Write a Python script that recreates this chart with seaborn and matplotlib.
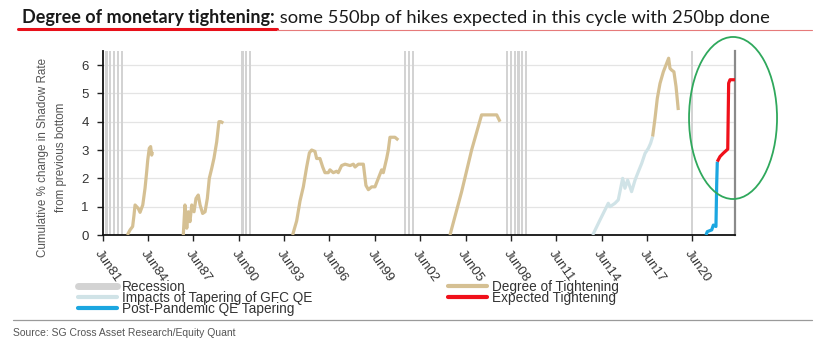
import numpy as np
import pandas as pd
import matplotlib
matplotlib.use("Agg")
import matplotlib.pyplot as plt
import seaborn as sns
from matplotlib.lines import Line2D
from matplotlib.patches import Ellipse

# ---------------- data ----------------
recession_quarters = ["1981Q3", "1981Q4", "1982Q1", "1982Q2", "1982Q3",
                      "1990Q3", "1990Q4", "1991Q1",
                      "2001Q2", "2001Q3", "2001Q4",
                      "2008Q1", "2008Q2", "2008Q3", "2008Q4", "2009Q1", "2009Q2",
                      "2020Q2"]

# Degree of Tightening cycles (decimal year, cumulative % change)
cyc1_x = [1983.13, 1983.31, 1983.48, 1983.57, 1983.64, 1983.85, 1983.97, 1984.15,
          1984.30, 1984.41, 1984.48, 1984.58, 1984.67, 1984.74, 1984.78]
cyc1_y = [0.0, 0.18, 0.30, 0.70, 1.06, 0.94, 0.80, 1.06, 1.65, 2.24, 2.65, 3.06,
          3.12, 2.82, 2.94]

cyc2_x = [1986.83, 1986.94, 1987.06, 1987.16, 1987.27, 1987.39, 1987.54, 1987.67,
          1987.82, 1987.94, 1988.11, 1988.27, 1988.42, 1988.55, 1988.71, 1988.86,
          1989.04, 1989.19, 1989.32, 1989.48]
cyc2_y = [0.0, 1.06, 0.24, 0.82, 0.47, 1.06, 0.82, 1.29, 1.41, 1.06, 0.76, 0.82,
          1.29, 2.00, 2.35, 2.71, 3.29, 4.00, 4.00, 3.95]

cyc3_x = [1994.06, 1994.33, 1994.55, 1994.77, 1994.99, 1995.17, 1995.32, 1995.54,
          1995.65, 1995.87, 1996.05, 1996.20, 1996.42, 1996.53, 1996.75, 1996.97,
          1997.08, 1997.30, 1997.53, 1997.86, 1998.08, 1998.19, 1998.41, 1998.74,
          1998.91, 1999.07, 1999.29, 1999.51, 1999.73, 1999.95, 2000.06, 2000.28,
          2000.39, 2000.50, 2000.83, 2001.05]
cyc3_y = [0.0, 0.5, 1.2, 1.7, 2.4, 2.9, 3.0, 2.95, 2.7, 2.7, 2.4, 2.2, 2.2, 2.3,
          2.2, 2.25, 2.2, 2.45, 2.5, 2.45, 2.5, 2.4, 2.5, 2.5, 1.75, 1.6, 1.7, 1.7,
          2.0, 2.3, 2.2, 2.7, 3.0, 3.45, 3.45, 3.35]

cyc4_x = [2004.47, 2005.24, 2005.90, 2006.56, 2007.56, 2007.78]
cyc4_y = [0.0, 1.53, 3.0, 4.24, 4.24, 4.0]

cyc5_x = [2017.87, 2018.03, 2018.18, 2018.36, 2018.58, 2018.80, 2018.93, 2019.02,
          2019.13, 2019.28, 2019.42, 2019.57]
cyc5_y = [3.47, 4.12, 4.82, 5.35, 5.76, 6.06, 6.24, 5.88, 5.82, 5.76, 5.24, 4.41]

# Impacts of Tapering of GFC QE
gfc_x = [2013.91, 2014.39, 2014.94, 2015.05, 2015.38, 2015.60, 2015.89, 2016.04,
         2016.22, 2016.48, 2016.71, 2016.93, 2017.15, 2017.37, 2017.59, 2017.74,
         2017.87]
gfc_y = [0.0, 0.53, 1.12, 1.0, 1.12, 1.24, 2.0, 1.65, 1.94, 1.53, 1.94, 2.24,
         2.53, 2.88, 3.06, 3.24, 3.47]

# Post-Pandemic QE Tapering
pan_x = [2021.40, 2021.49, 2021.78, 2021.89, 2022.06, 2022.11, 2022.15]
pan_y = [0.0, 0.12, 0.18, 0.35, 0.30, 1.82, 2.59]

# Expected Tightening
exp_x = [2022.15, 2022.33, 2022.55, 2022.84, 2022.90, 2022.99, 2023.32]
exp_y = [2.59, 2.77, 2.89, 3.03, 5.36, 5.48, 5.48]

tick_labels = ["Jun81", "Jun84", "Jun87", "Jun90", "Jun93", "Jun96", "Jun99",
               "Jun02", "Jun05", "Jun08", "Jun11", "Jun14", "Jun17", "Jun20"]
legend_labels = ["Recession", "Impacts of Tapering of GFC QE",
                 "Post-Pandemic QE Tapering", "Degree of Tightening",
                 "Expected Tightening"]

# ---------------- style ----------------
TAN = "#d5c093"
LBLUE = "#d0e3e7"
BLUE = "#1ba6e0"
RED = "#f0101a"
GREY = "#d3d3d3"

sns.set_theme(style="white")
plt.rcParams['font.family'] = ['Liberation Sans', 'DejaVu Sans']

W, H = 831, 353
fig = plt.figure(figsize=(W / 100, H / 100), dpi=100)
ax = fig.add_axes([102.7 / W, 1 - 235 / H, (735 - 102.7) / W, (235 - 50.85) / H])

XMIN, XMAX, YMAX = 1981.5, 2023.32, 6.5

# recession bars (quarterly)
rec_x = [int(q[:4]) + int(q[-1]) / 4 for q in recession_quarters]
ax.bar(rec_x, [YMAX] * len(rec_x), width=0.14, color=GREY, zorder=1,
       linewidth=0)

# gridlines
for yv in range(1, 7):
    ax.axhline(yv, color="#e4e4e4", lw=0.9, zorder=0)

lw = 2.3
def draw(xs, ys, color, z=3):
    df = pd.DataFrame({"x": xs, "y": ys})
    sns.lineplot(data=df, x="x", y="y", ax=ax, color=color, lw=lw, sort=False,
                 estimator=None, legend=False, zorder=z,
                 solid_joinstyle="round", solid_capstyle="butt")

for cx, cy in [(cyc1_x, cyc1_y), (cyc2_x, cyc2_y), (cyc3_x, cyc3_y),
               (cyc4_x, cyc4_y), (cyc5_x, cyc5_y)]:
    draw(cx, cy, TAN)
draw(gfc_x, gfc_y, LBLUE)
draw(pan_x, pan_y, BLUE)
draw(exp_x, exp_y, RED)

ax.set_xlim(XMIN, XMAX)
ax.set_ylim(0, YMAX)
ax.set_xlabel("")
ax.set_ylabel("")

ax.tick_params(axis="both", which="major", direction="out", length=4, width=1,
               color="#222222", left=True, bottom=True)
ax.tick_params(axis="x", pad=5)
ax.tick_params(axis="y", pad=6)

ax.set_yticks(range(0, 7))
ax.set_yticklabels([str(v) for v in range(0, 7)], fontsize=9.5, color="#333333")
xt = [XMIN + 3 * i for i in range(len(tick_labels))]
ax.set_xticks(xt)
ax.set_xticklabels(tick_labels, fontsize=9.5, color="#333333")
ax.tick_params(axis="x", labelrotation=-55)
for lab in ax.get_xticklabels():
    lab.set_rotation(-55)
    lab.set_rotation_mode("anchor")
    lab.set_ha("left")
    lab.set_va("top")

ax.spines["top"].set_visible(False)
ax.spines["left"].set_color("#111111")
ax.spines["left"].set_linewidth(1.3)
ax.spines["bottom"].set_color("#111111")
ax.spines["bottom"].set_linewidth(1.3)
ax.spines["right"].set_color("#8a8a8a")
ax.spines["right"].set_linewidth(1.6)

# green ellipse highlight
ell = Ellipse((2023.19, 4.13), width=5.82, height=5.72, fill=False,
              edgecolor="#2fa85c", lw=1.3, clip_on=False, zorder=5)
ax.add_patch(ell)

# y label
fig.text(52 / W, 1 - 157 / H,
         "Cumulative % change in Shadow Rate\nfrom previous bottom",
         rotation=90, ha="center", va="center", multialignment="center",
         fontsize=8.4, color="#555555", linespacing=1.6)

# legends
h1 = [Line2D([], [], color=GREY, lw=5), Line2D([], [], color=LBLUE, lw=3),
      Line2D([], [], color=BLUE, lw=3)]
h2 = [Line2D([], [], color=TAN, lw=3), Line2D([], [], color=RED, lw=3)]
common = dict(loc="upper left", frameon=False, fontsize=9.8, handlelength=2.9,
              handletextpad=0.3, labelspacing=-0.22, borderpad=0,
              borderaxespad=0, labelcolor="#333333")
fig.legend(h1, legend_labels[:3], bbox_to_anchor=(78 / W, 1 - 280 / H), **common)
fig.legend(h2, legend_labels[3:], bbox_to_anchor=(448 / W, 1 - 280 / H), **common)

# title
tb = fig.text(22 / W, 1 - 23 / H, "Degree of monetary tightening:",
              fontfamily="Lato", fontweight="bold", fontsize=13,
              va="baseline", ha="left", color="#1a1a1a")
fig.canvas.draw()
bb = tb.get_window_extent()
fig.text(bb.x1 / W, 1 - 23 / H,
         " some 550bp of hikes expected in this cycle with 250bp done",
         fontfamily="Lato", fontsize=13.2, va="baseline", ha="left",
         color="#1a1a1a")

fig.add_artist(Line2D([18 / W, 277 / W], [1 - 29 / H, 1 - 29 / H],
                      transform=fig.transFigure, color="#e8101a", lw=2.2))
fig.add_artist(Line2D([277 / W, 812 / W], [1 - 30 / H, 1 - 30 / H],
                      transform=fig.transFigure, color="#e67a7a", lw=0.8))

# bottom separator and source
fig.add_artist(Line2D([13 / W, 812 / W], [1 - 320 / H, 1 - 320 / H],
                      transform=fig.transFigure, color="#9a9a9a", lw=0.9))
fig.text(13 / W, 1 - 333 / H, "Source: SG Cross Asset Research/Equity Quant",
         fontsize=7.5, color="#555555", va="center", ha="left")

fig.savefig("out.png", dpi=100)
